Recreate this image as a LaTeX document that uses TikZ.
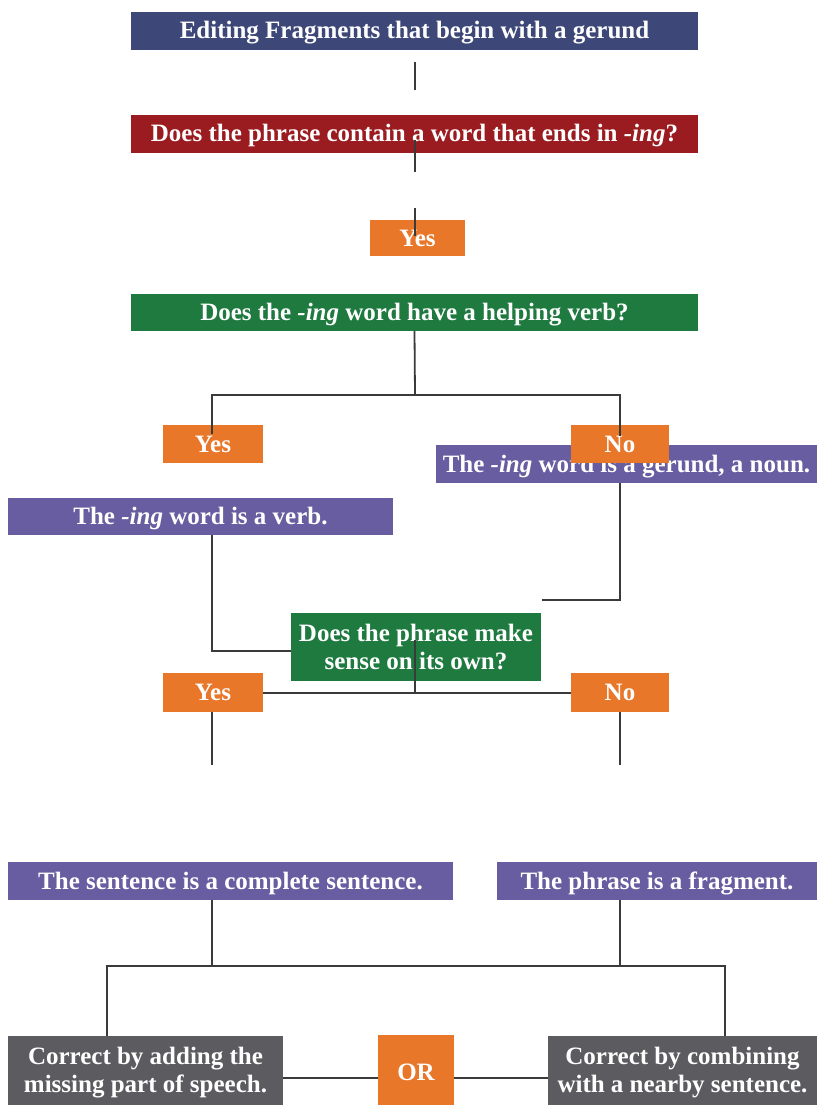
\documentclass[tikz,border=0pt]{standalone}
\usepackage{fontspec}
\setmainfont{Liberation Serif}
\usetikzlibrary{calc}
\definecolor{cnavy}{HTML}{3D4878}
\definecolor{cred}{HTML}{9B1C20}
\definecolor{cgreen}{HTML}{1F7A40}
\definecolor{corange}{HTML}{E8772A}
\definecolor{cpurple}{HTML}{675DA0}
\definecolor{cgray}{HTML}{5C5C60}
\definecolor{lineclr}{HTML}{3A3A3A}
\begin{document}
\begin{tikzpicture}[x=1pt,y=-1pt,
  box/.style={rectangle, inner sep=0pt, text=white, align=center,
    font=\fontsize{25}{28}\selectfont\bfseries},
  oneline/.style={text height=16pt, text depth=0pt},
  conn/.style={draw=lineclr, line width=1.8pt}]
\useasboundingbox (0,0) rectangle (817,1105);
% boxes
\node[box, oneline, fill=cnavy, minimum width=567pt, minimum height=38pt] (top) at (414.5,31) {Editing Fragments that begin with a gerund};
\node[box, oneline, fill=cred, minimum width=567pt, minimum height=38pt] (red) at (414.5,134) {Does the phrase contain a word that ends in \textit{-ing}?};
\node[box, oneline, fill=corange, minimum width=95pt, minimum height=36pt] (yes1) at (417.5,238) {Yes};
\node[box, oneline, fill=cgreen, minimum width=567pt, minimum height=37pt] (green1) at (414.5,312.5) {Does the \textit{-ing} word have a helping verb?};
\node[box, oneline, fill=corange, minimum width=100pt, minimum height=38pt] (yes2) at (213,444) {Yes};
\node[box, oneline, fill=cpurple, minimum width=381pt, minimum height=38pt] (gerund) at (626.5,464) {The \textit{-ing} word is a gerund, a noun.};
\node[box, oneline, fill=corange, minimum width=98pt, minimum height=38pt] (no2) at (620,444) {No};
\node[box, oneline, fill=cpurple, minimum width=385pt, minimum height=37pt] (verb) at (200.5,516.5) {The \textit{-ing} word is a verb.};
\node[box, fill=cgreen, minimum width=250pt, minimum height=68pt] (green2) at (416,647) {Does the phrase make\\sense on its own?};
\node[box, oneline, fill=corange, minimum width=100pt, minimum height=39pt] (yes3) at (213,692.5) {Yes};
\node[box, oneline, fill=corange, minimum width=98pt, minimum height=39pt] (no3) at (620,692.5) {No};
\node[box, oneline, fill=cpurple, minimum width=445pt, minimum height=38pt] (complete) at (230.5,881) {The sentence is a complete sentence.};
\node[box, oneline, fill=cpurple, minimum width=320pt, minimum height=38pt] (fragment) at (657,881) {The phrase is a fragment.};
\node[box, fill=cgray, minimum width=275pt, minimum height=74pt] (gleft) at (145.5,1073) {Correct by adding the\\missing part of speech.};
\node[box, oneline, fill=corange, minimum width=76pt, minimum height=74pt] (orbox) at (416,1072) {OR};
\node[box, fill=cgray, minimum width=269pt, minimum height=74pt] (gright) at (682.5,1073) {Correct by combining\\with a nearby sentence.};
% free coordinates
\coordinate (a1) at (415,62);
\coordinate (a2) at (415,90);
\coordinate (b1) at (415,140);
\coordinate (b2) at (415,172);
\coordinate (d1) at (415,208);
\coordinate (d2) at (415,236);
\coordinate (j1) at (415,395);
\coordinate (jl) at (212,395);
\coordinate (jr) at (620,395);
\coordinate (yl) at (212,434);
\coordinate (nr) at (620,436);
\coordinate (v1) at (212,651);
\coordinate (g1) at (620,600);
\coordinate (g2) at (542,600);
\coordinate (s1) at (415,640);
\coordinate (s2) at (415,693);
\coordinate (e1) at (212,765);
\coordinate (e2) at (620,765);
\coordinate (h1) at (212,966);
\coordinate (h2) at (620,966);
\coordinate (hl) at (107,966);
\coordinate (hr) at (725,966);
% connectors
\draw[conn] (a1) -- (a2);
\draw[conn] (b1) -- (b2);
\draw[conn] (d1) -- (d2);
\draw[conn] (green1.south) -- (j1);
\draw[conn] (yl) -- (jl) -- (jr) -- (nr);
\draw[conn] (verb.south -| v1) -- (v1) -- (green2.west |- v1);
\draw[conn] (gerund.south -| g1) -- (g1) -- (g2);
\draw[conn] (s1) -- (s2);
\draw[conn] (yes3.east |- s2) -- (no3.west |- s2);
\draw[conn] (yes3.south -| e1) -- (e1);
\draw[conn] (no3.south -| e2) -- (e2);
\draw[conn] (complete.south -| h1) -- (h1);
\draw[conn] (fragment.south -| h2) -- (h2);
\draw[conn] (gleft.north -| hl) -- (hl) -- (hr) -- (gright.north -| hr);
\draw[conn] (gleft.east |- 0,1078) -- (orbox.west |- 0,1078);
\draw[conn] (orbox.east |- 0,1078) -- (gright.west |- 0,1078);
\end{tikzpicture}
\end{document}
